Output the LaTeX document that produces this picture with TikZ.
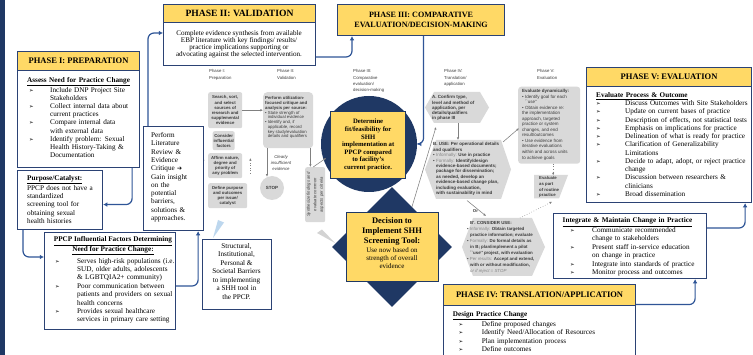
\documentclass[tikz,border=0pt]{standalone}
\usepackage{fontspec}
\setmainfont{Liberation Serif}
\newfontfamily\sketchfont{Liberation Sans}
\newfontfamily\dejavusym{DejaVu Sans}
\usetikzlibrary{arrows.meta,calc,shapes.geometric}

\definecolor{navy}{HTML}{1F3864}
\definecolor{boxline}{HTML}{2B4274}
\definecolor{hdrfill}{HTML}{FFD966}
\definecolor{connblue}{HTML}{2F5597}
\definecolor{figfill}{HTML}{D9D9D9}
\definecolor{figtext}{HTML}{3B3B3B}
\definecolor{figline}{HTML}{808080}
\definecolor{figsoft}{HTML}{858585}
\definecolor{figwedge}{HTML}{D3D3D3}
\definecolor{callout}{HTML}{BDD7EE}

\newcommand\bulletglyph{{\dejavusym\fontsize{5.4}{5}\selectfont ➢}}
% #1 hanging indent, #2 offset of the arrow bullet, #3 item text
\newcommand\arrbul[3]{\par\noindent\hangindent=#1\hangafter=1\makebox[#1][l]{\hspace*{#2}\bulletglyph}#3\par}
\newcommand\uhead[1]{\textbf{\underline{#1}}}
\newcommand\softword[1]{\textcolor{figsoft}{\mdseries #1}}

\begin{document}
\begin{tikzpicture}[x=1pt,y=-1pt,
  box/.style={draw=boxline, line width=1.1pt, fill=white, inner sep=0pt, anchor=north west},
  hdr/.style={box, fill=hdrfill, align=center, font=\bfseries\fontsize{8.5}{9.6}\selectfont},
  conn/.style={draw=connblue, line width=1.2pt, rounded corners=6pt, -{Latex[length=4.2pt,width=4.6pt]}},
  body/.style={inner sep=0pt, anchor=north west, align=left, text width=#1, font=\fontsize{7.2}{8.3}\selectfont},
  body/.default=120pt,
  ctext/.style={inner sep=0pt, align=center, font=\fontsize{7.2}{8.3}\selectfont},
  ybox/.style={draw=navy, line width=1.3pt, fill=hdrfill, inner sep=0pt, anchor=north west},
  figbox/.style={fill=figfill, rounded corners=2pt, inner sep=0pt, anchor=north west, align=center, text=figtext, font=\sketchfont\bfseries\fontsize{4.3}{5.1}\selectfont},
  figtxt/.style={inner sep=0pt, anchor=north west, align=left, text=figtext, font=\sketchfont\bfseries\fontsize{4.5}{5.3}\selectfont},
  figlbl/.style={inner sep=0pt, anchor=north west, align=left, text=figtext, font=\sketchfont\fontsize{4.3}{6.2}\selectfont},
  figarrow/.style={draw=figline, line width=0.55pt, -{Latex[length=2.6pt,width=2.4pt]}},
  figdot/.style={figarrow, dotted},
]
\useasboundingbox (0,0) rectangle (753,355);
\fill[white] (0,0) rectangle (753,355);
\fill[navy] (0,0) rectangle (4.5,355);

% ---------- navy backdrops of the two decision blocks ----------
\node[circle, fill=navy, minimum size=96pt, inner sep=0pt] (fitcircle) at (369,144) {};
\coordinate (hexAcorner) at (436,127);
\draw[figarrow] (411,210) -- (hexAcorner);
\fill[figwedge] (317,233) -- (322,229.5) -- (335,243) -- cycle;
\node[diamond, fill=navy, minimum width=120pt, minimum height=120pt, inner sep=0pt] (decdia) at (392,247) {};

% ---------- grey process sketch ----------
\node[figlbl] (lblI) at (209,69.5) {Phase I:\\Preparation};
\node[figlbl] (lblII) at (277,69.5) {Phase II:\\Validation};
\node[figlbl] (lblIII) at (353,69.5) {Phase III:\\Comparative\\evaluation/\\decision-making};
\node[figlbl] (lblIV) at (444,69.5) {Phase IV:\\Translation/\\application};
\node[figlbl] (lblV) at (537,69.5) {Phase V:\\Evaluation};

\node[figbox, minimum width=34pt, minimum height=36pt] (search) at (208,92) {Search, sort,\\and select\\sources of\\research and\\supplemental\\evidence};
\node[figbox, minimum width=22pt, minimum height=19pt] (consider) at (212.5,131) {Consider\\influential\\factors};
\node[figbox, minimum width=34pt, minimum height=25pt] (affirm) at (208,153) {Affirm nature,\\degree and\\priority of\\any problem};
\node[figbox, minimum width=39pt, minimum height=25pt] (define) at (208,183) {Define purpose\\and outcomes\\per issue/\\catalyst};
\draw[figdot] ($(affirm.south west)+(-4.7,-5)$) -- ($(affirm.north west)+(-4.7,5)$);
\draw[figdot] ($(affirm.south east)+(8,-5)$) -- ($(affirm.north east)+(8,5)$);

\node[figbox, minimum width=50pt, minimum height=56pt, rounded corners=4pt] (perform) at (263,92) {};
\node[figtxt, font=\sketchfont\bfseries\fontsize{4.3}{4.75}\selectfont] (performtxt) at (265,96.6)
  {Perform utilization-\\focused critique and\\analysis per source:\\
   {\mdseries • State strength of}\\{\mdseries\hspace*{2.6pt}individual evidence}\\
   {\mdseries • Identify and, if}\\{\mdseries\hspace*{2.6pt}applicable, record}\\
   {\mdseries\hspace*{2.6pt}key study/evaluation}\\{\mdseries\hspace*{2.6pt}details and qualifiers}};
\draw[figarrow] (search.east) -- (search.east -| perform.west);
\node[inner sep=0pt, align=center, text=figtext, font=\sketchfont\itshape\fontsize{4.3}{6}\selectfont] (insuff) at (281,162.7) {Clearly\\insufficient\\evidence};
\node[circle, fill=figfill, minimum size=24pt, inner sep=0pt, text=figtext, font=\sketchfont\bfseries\fontsize{4.5}{5}\selectfont] (stop) at (272,188) {STOP};
\draw[figarrow] ($(perform.south west)+(4,0)$) -- ($(stop.north)+(-5,1)$);

\node[figbox, minimum width=20pt, minimum height=55pt] (synth) at (305,167) {};
\node[inner sep=0pt, rotate=90, align=center, text=figtext, font=\sketchfont\itshape\fontsize{4.2}{6.5}\selectfont] (synthtxt) at (synth.center) {Synthesize findings and\\evaluate common\\aspects per criteria};
\draw[figarrow] ($(perform.south east)+(-3,0)$) -- ($(perform.south east |- synth.north)+(-3,0)$);
\draw[figarrow] ($(synth.north)+(-2,0)$) -- ++(13,-9);

% step A
\fill[figfill] (425,107.5) -- (434,92) -- (480,92) -- (489,107.5) -- (480,123) -- (434,123) -- cycle;
\node[figtxt] (hexA) at (432,95.3) {A. Confirm type,\\level and method of\\application, per\\details/qualifiers\\in phase III};
\coordinate (hexAbot) at (458,123);
% step B
\fill[figfill] (425,169.5) -- (436,140) -- (501,140) -- (511,169.5) -- (501,199) -- (436,199) -- cycle;
\node[figtxt, font=\sketchfont\bfseries\fontsize{4.5}{5.45}\selectfont] (hexB) at (433,142.2)
  {B. USE: Per operational details\\and qualifiers\\
   • \softword{Informally:} Use in practice\\
   • \softword{Formally:} Identify/design\\
   \hspace*{3pt}evidence-based documents;\\\hspace*{3pt}package for dissemination;\\
   \hspace*{3pt}as needed, develop an\\\hspace*{3pt}evidence-based change plan,\\
   \hspace*{3pt}including evaluation,\\\hspace*{3pt}with sustainability in mind};
\coordinate (hexBtop) at (458,140);
\coordinate (hexBne) at (503,142);
\coordinate (hexBsw) at (467,200.5);
\draw[figarrow] (hexAbot) -- (hexBtop);

% phase V step
\node[figbox, minimum width=62pt, minimum height=77pt, rounded corners=3pt] (vbox) at (518,86.5) {};
\node[figtxt, font=\sketchfont\bfseries\fontsize{4.5}{5.55}\selectfont] (vtxt) at (522,89)
  {Evaluate dynamically:\\{\mdseries • Identify goal for each}\\{\mdseries\hspace*{2.6pt}``use''}\\
   {\mdseries • Obtain evidence re:}\\{\mdseries the implementation}\\{\mdseries approach, targeted}\\
   {\mdseries practice or system}\\{\mdseries changes, and end}\\{\mdseries result/outcomes}\\
   {\mdseries • Use evidence from}\\{\mdseries iterative evaluations}\\{\mdseries within and across units}\\{\mdseries to achieve goals}};
\draw[figarrow] (hexBne) -- ($(vbox.west)+(1,3)$);

% routine evaluation
\fill[figfill] (534,175) -- (568,175) -- (559,198.5) -- (534,198.5) -- cycle;
\node[figtxt, font=\sketchfont\bfseries\fontsize{4.3}{5.6}\selectfont] (routine) at (539,176.5) {Evaluate\\as part\\of routine\\practice};
\draw[figdot] ($(vbox.south)+(4,0)$) -- ($(vbox.south)+(4,11.5)$);

% step B'
\fill[figfill] (462,247) -- (473,218) -- (532,218) -- (545,247) -- (532,276) -- (473,276) -- cycle;
\node[figtxt, font=\sketchfont\bfseries\fontsize{4.4}{6}\selectfont] (hexBp) at (467,221.5)
  {\hspace*{3pt}B'. CONSIDER USE:\\
   • \softword{Informally:} Obtain targeted\\\hspace*{3pt}practice information; evaluate\\
   • \softword{Formally:} Do formal details as\\\hspace*{3pt}in B; plan/implement a pilot\\\hspace*{3pt}``use'' project, with evaluation\\
   • \softword{Per results:} Accept and extend,\\\hspace*{3pt}with or without modification,\\\hspace*{3pt}\softword{\itshape or if reject = STOP}};
\coordinate (hexBpnw) at (486,216);
\coordinate (hexBpne) at (520,218);
\draw[figarrow] (hexBsw) -- (hexBpnw);
\node[inner sep=0pt, text=figtext, font=\sketchfont\bfseries\fontsize{4.3}{5}\selectfont] (orlbl) at (475.5,211.5) {Or};
\draw[figdot] (hexBpne) -- ($(routine.south)+(3,4)$);

% ---------- Phase I ----------
\node[hdr, minimum width=122pt, minimum height=19pt] (p1head) at (17,51) {PHASE I: PREPARATION};
\node[box, minimum width=122pt, minimum height=97pt] (p1body) at (17,70) {};
\node[body=115pt, font=\fontsize{7.2}{8.2}\selectfont] (p1txt) at (27,77.3) {\uhead{Assess Need for Practice Change}
  \arrbul{23pt}{2pt}{Include DNP Project Site\newline Stakeholders}
  \arrbul{23pt}{2pt}{Collect internal data about\newline current practices}
  \arrbul{23pt}{2pt}{Compare internal data\newline with external data}
  \arrbul{23pt}{2pt}{Identify problem: Sexual\newline Health History-Taking \&\newline Documentation}};

\node[box, minimum width=85pt, minimum height=59pt] (purpose) at (17,170) {};
\node[body=80pt, font=\fontsize{7.2}{8.4}\selectfont] (purptxt) at (27,175.3) {\uhead{Purpose/Catalyst:}\\PPCP does not have a\\standardized\\screening tool for\\obtaining sexual\\health histories};

\node[box, minimum width=60pt, minimum height=104pt] (lit) at (143,126) {};
\node[body=55pt] (littxt) at (151,132.3) {Perform\\Literature\\Review \&\\Evidence\\Critique {\dejavusym\fontsize{6}{6}\selectfont ➔}\\Gain insight\\on the\\potential\\barriers,\\solutions \&\\approaches.};

\node[box, minimum width=131pt, minimum height=97pt] (ppcp) at (44,232) {};
\node[ctext, font=\bfseries\fontsize{7.2}{8.3}\selectfont] (ppcptitle) at (113,246) {\underline{PPCP Influential Factors Determining}\\\underline{Need for Practice Change:}};
\node[body=125pt, font=\fontsize{7.2}{8.4}\selectfont] (ppcptxt) at (55,254.6) {%
  \arrbul{22pt}{0pt}{Serves high-risk populations (i.e.\newline SUD, older adults, adolescents\newline \& LGBTQIA2+ community)}
  \arrbul{22pt}{0pt}{Poor communication between\newline patients and providers on sexual\newline health concerns}
  \arrbul{22pt}{0pt}{Provides sexual healthcare\newline services in primary care setting}};

\fill[callout] (213,238) -- (218,220) -- (224,222.5) -- cycle;
\node[box, minimum width=69pt, minimum height=70pt] (struct) at (202,239) {};
\node[ctext, font=\fontsize{7.2}{8.5}\selectfont] (structtxt) at (236.5,271.5) {Structural,\\Institutional,\\Personal \&\\Societal Barriers\\to implementing\\a SHH tool in\\the PPCP.};

% ---------- Phase II ----------
\node[hdr, minimum width=152pt, minimum height=18pt, font=\bfseries\fontsize{9.6}{10}\selectfont] (p2head) at (163,4) {PHASE II: VALIDATION};
\node[box, minimum width=152pt, minimum height=43pt] (p2body) at (163,22) {};
\node[ctext, font=\fontsize{7.1}{7.1}\selectfont] (p2txt) at (239,44) {Complete evidence synthesis from available\\EBP literature with key findings/ results/\\practice implications supporting or\\advocating against the selected intervention.};

% ---------- Phase III ----------
\node[hdr, minimum width=167pt, minimum height=31pt, font=\bfseries\fontsize{8.1}{10.2}\selectfont] (p3head) at (337,4) {PHASE III: COMPARATIVE\\EVALUATION/DECISION-MAKING};
\node[ybox, minimum width=75pt, minimum height=67pt, align=center, font=\bfseries\fontsize{6.7}{7.6}\selectfont] (determine) at (330,111) {Determine\\fit/feasibility for\\SHH\\implementation at\\PPCP compared\\to facility's\\current practice.};

\node[ybox, minimum width=92pt, minimum height=69pt] (decision) at (346,212) {};
\node[inner sep=0pt, align=center, font=\bfseries\fontsize{8.5}{10}\selectfont] (dectitle) at (392,231.5) {Decision to\\Implement SHH\\Screening Tool:};
\node[ctext, font=\fontsize{7}{8}\selectfont] (decbody) at (392,258.5) {Use now based on\\strength of overall\\evidence};

% ---------- Phase V ----------
\node[hdr, minimum width=165pt, minimum height=19pt] (p5head) at (586,67) {PHASE V: EVALUATION};
\node[box, minimum width=165pt, minimum height=116pt] (p5body) at (586,86) {};
\node[body=160pt, font=\fontsize{7.2}{8.25}\selectfont] (p5txt) at (596,92.3) {\uhead{Evaluate Process \& Outcome}
  \arrbul{29pt}{0pt}{Discuss Outcomes with Site Stakeholders}
  \arrbul{29pt}{0pt}{Update on current bases of practice}
  \arrbul{29pt}{0pt}{Description of effects, not statistical tests}
  \arrbul{29pt}{0pt}{Emphasis on implications for practice}
  \arrbul{29pt}{0pt}{Delineation of what is ready for practice}
  \arrbul{29pt}{0pt}{Clarification of Generalizability\newline Limitations}
  \arrbul{29pt}{0pt}{Decide to adapt, adopt, or reject practice\newline change}
  \arrbul{29pt}{0pt}{Discussion between researchers \&\newline clinicians}
  \arrbul{29pt}{0pt}{Broad dissemination}};

\node[box, minimum width=153pt, minimum height=65pt] (integ) at (553,213) {};
\node[body=150pt, font=\fontsize{7.2}{8.4}\selectfont] (integtxt) at (562.5,217.8) {\uhead{Integrate \& Maintain Change in Practice}
  \arrbul{29.5pt}{7.5pt}{Communicate recommended\newline change to stakeholders}
  \arrbul{29.5pt}{7.5pt}{Present staff in-service education\newline on change in practice}
  \arrbul{29.5pt}{7.5pt}{Integrate into standards of practice}
  \arrbul{29.5pt}{7.5pt}{Monitor process and outcomes}};

% ---------- Phase IV ----------
\node[hdr, minimum width=192pt, minimum height=21pt] (p4head) at (443,284) {PHASE IV: TRANSLATION/APPLICATION};
\node[box, minimum width=192pt, minimum height=70pt] (p4body) at (443,305) {};
\node[body=180pt, font=\fontsize{7.2}{8.6}\selectfont] (p4txt) at (452.7,311.3) {\uhead{Design Practice Change}
  \arrbul{29pt}{5.6pt}{Define proposed changes}
  \arrbul{29pt}{5.6pt}{Identify Need/Allocation of Resources}
  \arrbul{29pt}{5.6pt}{Plan implementation process}
  \arrbul{29pt}{5.6pt}{Define outcomes}};

% ---------- connectors ----------
\draw[conn] ($(lit.north west)+(5,0)$) |- ($(p2body.north west)+(0,11)$);
\draw[conn] ($(p2body.north east)+(0,35)$) -| ($(p3head.south west)+(15,0)$);
\draw[conn] ($(p3head.south)+(2.5,0)$) |- (fitcircle.east);
\draw[conn] ($(p1body.south east)+(-8,0)$) |- ($(purpose.east)+(0,4.5)$);
\draw[conn] ($(purpose.south west)+(6,0)$) |- ($(ppcp.north west)+(0,25)$);
\draw[conn] ($(ppcp.north east)+(0,54)$) -| ($(lit.south east)+(-6,0)$);
\draw[conn] ($(integ.north east)+(0,15)$) -| ($(p5body.south east)+(-7,0)$);
\draw[conn] ($(p4head.south east)+(0,-1.5)$) -| ($(integ.south east)+(-12,0)$);
\end{tikzpicture}
\end{document}
